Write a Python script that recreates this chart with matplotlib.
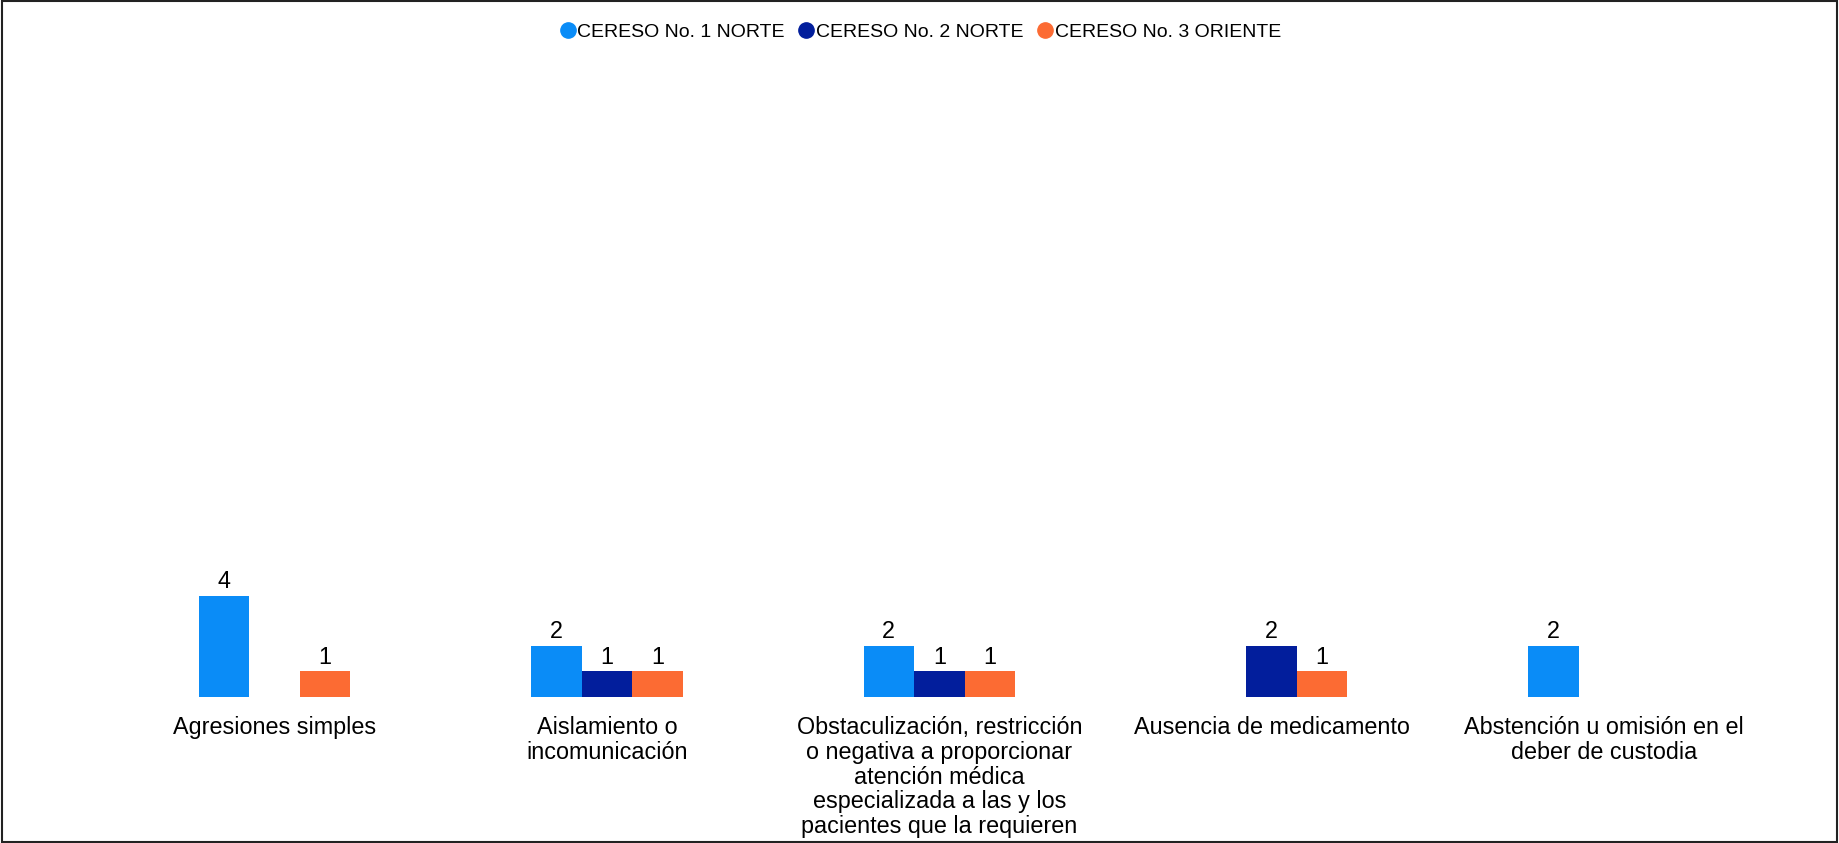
import numpy as np
import matplotlib
matplotlib.use("Agg")
import matplotlib.pyplot as plt
from matplotlib.lines import Line2D
from matplotlib.patches import Rectangle

plt.rcParams['font.family'] = ['Liberation Sans', 'DejaVu Sans']

categories = [
    "Agresiones simples",
    "Aislamiento o\nincomunicación",
    "Obstaculización, restricción\no negativa a proporcionar\natención médica\nespecializada a las y los\npacientes que la requieren",
    "Ausencia de medicamento",
    "Abstención u omisión en el\ndeber de custodia",
]
series = ["CERESO No. 1 NORTE", "CERESO No. 2 NORTE", "CERESO No. 3 ORIENTE"]
norte1 = [4, 2, 2, 0, 2]
norte2 = [0, 1, 1, 2, 0]
oriente3 = [1, 1, 1, 1, 0]
colors = ["#0A8CF7", "#021E9C", "#FC6B33"]

fig = plt.figure(figsize=(18.39, 8.43), dpi=100)
ax = fig.add_axes([0.059, 0.1737, 0.9035, 0.76])

x = np.arange(len(categories))
w = 0.152
for i, (vals, col, name) in enumerate(zip([norte1, norte2, oriente3], colors, series)):
    bars = ax.bar(x + (i - 1) * w, vals, w, color=col, label=name)
    ax.bar_label(bars, labels=[str(v) if v else "" for v in vals],
                 padding=2, fontsize=16.8)

ax.set_xlim(-0.5, len(categories) - 0.5)
ax.set_ylim(0, 25.4)
ax.set_xticks(x)
ax.set_xticklabels(categories, fontsize=16.8, linespacing=1.1)
ax.tick_params(axis='x', length=0, pad=14)
ax.set_yticks([])
for s in ax.spines.values():
    s.set_visible(False)

handles = [Line2D([], [], marker='o', linestyle='', markersize=11, color=c) for c in colors]
fig.legend(handles, series, loc='upper center', bbox_to_anchor=(0.5, 0.993),
           ncol=3, frameon=False, fontsize=14, handletextpad=0.0,
           columnspacing=0.6, handlelength=1.0)

fig.patches.append(Rectangle((0.001, 0.001), 0.998, 0.998, transform=fig.transFigure,
                             fill=False, edgecolor='#222222', linewidth=1.5))

fig.savefig("out.png", dpi=100)
